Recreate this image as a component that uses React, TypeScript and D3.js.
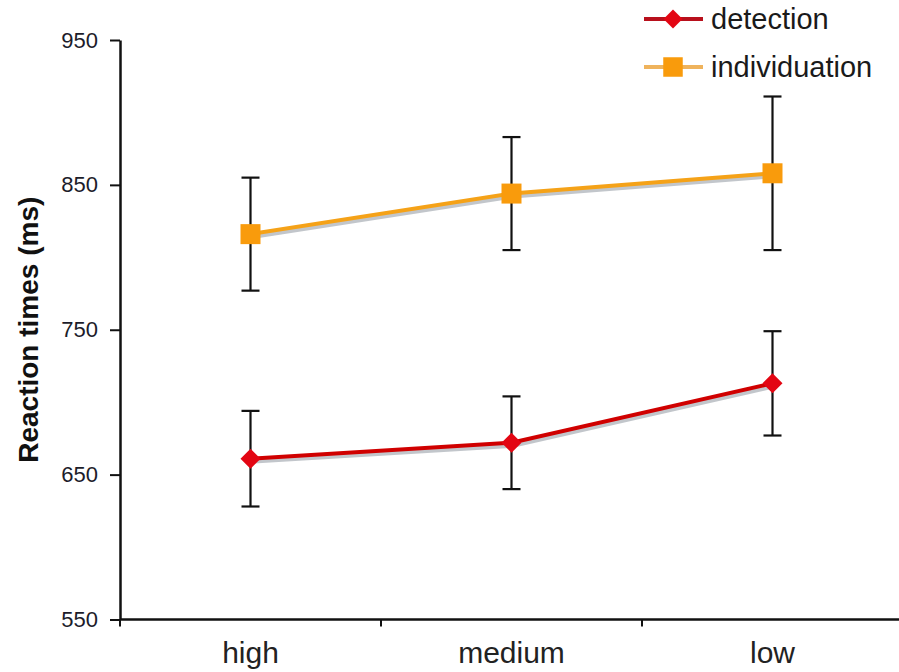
import React, { useEffect, useRef } from "react";
import * as d3 from "d3";

const categories = ["high", "medium", "low"];
const yTicks = [550, 650, 750, 850, 950];
const detectionMeans = [661, 672, 713];
const detectionErr = [33, 32, 36];
const individuationMeans = [816, 844, 858];
const individuationErr = [39, 39, 53];
const seriesNames = ["detection", "individuation"];

const W = 899;
const H = 672;

export default function App() {
  const ref = useRef<SVGSVGElement | null>(null);

  useEffect(() => {
    const svg = d3.select(ref.current);
    svg.selectAll("*").remove();

    const x = d3.scaleBand().domain(categories).range([120, 903]);
    const y = d3.scaleLinear().domain([550, 950]).range([619.5, 40]);
    const cx = (c: string) => (x(c) as number) + x.bandwidth() / 2;

    // y axis
    const yAxis = svg
      .append("g")
      .attr("transform", "translate(120,0)")
      .call(d3.axisLeft(y).tickValues(yTicks).tickSize(10).tickSizeOuter(0).tickPadding(12));
    yAxis.select(".domain").attr("stroke", "#111").attr("stroke-width", 2.5);
    yAxis.selectAll(".tick line").attr("stroke", "#111").attr("stroke-width", 2);
    yAxis
      .selectAll(".tick text")
      .attr("font-family", "Liberation Sans, Arial, sans-serif")
      .attr("font-size", 22)
      .attr("fill", "#1c1c2a");

    // x axis
    const xg = svg.append("g");
    xg.append("line")
      .attr("x1", 120)
      .attr("x2", W)
      .attr("y1", y(550))
      .attr("y2", y(550))
      .attr("stroke", "#111")
      .attr("stroke-width", 2.5);
    xg.selectAll("line.tick")
      .data(categories)
      .join("line")
      .attr("class", "tick")
      .attr("x1", (d) => x(d) as number)
      .attr("x2", (d) => x(d) as number)
      .attr("y1", y(550))
      .attr("y2", y(550) + 7)
      .attr("stroke", "#111")
      .attr("stroke-width", 2);
    xg.selectAll("text")
      .data(categories)
      .join("text")
      .attr("x", (d) => cx(d))
      .attr("y", 663)
      .attr("text-anchor", "middle")
      .attr("font-family", "Liberation Sans, Arial, sans-serif")
      .attr("font-size", 30)
      .attr("fill", "#222")
      .text((d) => d);

    // y title
    svg
      .append("text")
      .attr("transform", `translate(38,${(y(550) + y(950)) / 2}) rotate(-90)`)
      .attr("text-anchor", "middle")
      .attr("font-family", "Liberation Sans, Arial, sans-serif")
      .attr("font-weight", "bold")
      .attr("font-size", 28)
      .attr("fill", "#111")
      .text("Reaction times (ms)");

    const series = [
      { name: seriesNames[0], means: detectionMeans, err: detectionErr, line: "#d00000", mark: "#e30613", legendLine: "#b8101c", shape: "diamond" },
      { name: seriesNames[1], means: individuationMeans, err: individuationErr, line: "#f5a218", mark: "#f99b0c", legendLine: "#efb35c", shape: "square" },
    ];

    const line = d3
      .line<number>()
      .x((_, i) => cx(categories[i]))
      .y((d) => y(d));

    series.forEach((s) => {
      // error bars
      const eg = svg.append("g");
      s.means.forEach((m, i) => {
        const px = cx(categories[i]);
        const top = y(m + s.err[i]);
        const bot = y(m - s.err[i]);
        eg.append("line").attr("x1", px).attr("x2", px).attr("y1", top).attr("y2", bot).attr("stroke", "#111").attr("stroke-width", 2.2);
        [top, bot].forEach((yy) =>
          eg.append("line").attr("x1", px - 9).attr("x2", px + 9).attr("y1", yy).attr("y2", yy).attr("stroke", "#111").attr("stroke-width", 2.2)
        );
      });
      // shadow + line
      svg
        .append("path")
        .attr("d", line(s.means))
        .attr("transform", "translate(1.5,3)")
        .attr("fill", "none")
        .attr("stroke", "#9aa0a8")
        .attr("stroke-opacity", 0.6)
        .attr("stroke-width", 4);
      svg
        .append("path")
        .attr("d", line(s.means))
        .attr("fill", "none")
        .attr("stroke", s.line)
        .attr("stroke-width", 4);
      // markers
      const sym =
        s.shape === "diamond"
          ? d3.symbol(d3.symbolSquare, 200)
          : d3.symbol(d3.symbolSquare, 400);
      svg
        .append("g")
        .selectAll("path")
        .data(s.means)
        .join("path")
        .attr("d", sym() as string)
        .attr("transform", (d, i) =>
          `translate(${cx(categories[i])},${y(d)})` + (s.shape === "diamond" ? " rotate(45)" : "")
        )
        .attr("fill", s.mark);
    });

    // legend
    const lg = svg.append("g");
    series.forEach((s, i) => {
      const ly = 19 + i * 48;
      lg.append("line").attr("x1", 644).attr("x2", 703).attr("y1", ly).attr("y2", ly).attr("stroke", s.legendLine).attr("stroke-width", 4);
      const sym = s.shape === "diamond" ? d3.symbol(d3.symbolSquare, 180) : d3.symbol(d3.symbolSquare, 380);
      lg.append("path")
        .attr("d", sym() as string)
        .attr("transform", `translate(673,${ly})` + (s.shape === "diamond" ? " rotate(45)" : ""))
        .attr("fill", s.mark);
      lg.append("text")
        .attr("x", 711)
        .attr("y", ly + 10)
        .attr("font-family", "Liberation Sans, Arial, sans-serif")
        .attr("font-size", 29)
        .attr("fill", "#1a1a1a")
        .text(s.name);
    });
  }, []);

  return (
    <svg
      ref={ref}
      width={W}
      height={H}
      style={{ position: "absolute", left: 0, top: 0, background: "#fff", display: "block" }}
    />
  );
}
